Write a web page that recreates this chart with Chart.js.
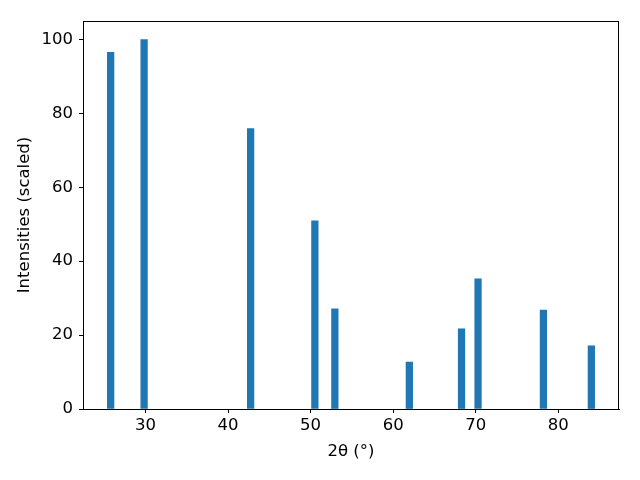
<!DOCTYPE html>
<html>
<head>
<meta charset="utf-8">
<script src="https://cdn.jsdelivr.net/npm/chart.js@4"></script>
<style>
  html, body { margin: 0; padding: 0; background: #fff; }
</style>
</head>
<body>
<canvas id="xrd" width="640" height="480"></canvas>
<script>
// peak positions (2theta, degrees) and scaled intensities
const peakPositions = [25.79, 29.84, 42.74, 50.52, 52.94, 61.96, 68.28, 70.28, 78.20, 84.00];
const peakIntensities = [96.5, 100, 75.9, 50.9, 27.1, 12.7, 21.7, 35.2, 26.8, 17.1];
const xTicks = [30, 40, 50, 60, 70, 80];
const yTicks = [0, 20, 40, 60, 80, 100];

const fontTick = { family: 'DejaVu Sans', size: 16.5 };

// matplotlib-like full box around the plot area
const frame = {
    id: 'frame',
    afterDraw(chart) {
        const { ctx, chartArea: a } = chart;
        ctx.save();
        ctx.strokeStyle = '#000';
        ctx.lineWidth = 1;
        ctx.strokeRect(Math.round(a.left) + 0.5, Math.round(a.top) + 0.5,
            Math.round(a.right - a.left) - 1, Math.round(a.bottom - a.top));
        ctx.restore();
    }
};

new Chart(document.getElementById('xrd'), {
    type: 'bar',
    data: {
        datasets: [{
            data: peakPositions.map((x, i) => ({ x: x, y: peakIntensities[i] })),
            backgroundColor: '#1f77b4',
            borderWidth: 0,
            barThickness: 6.6,
            grouped: false
        }]
    },
    options: {
        responsive: false,
        animation: false,
        layout: { padding: { top: 21, right: 21, left: 0, bottom: 0 } },
        plugins: { legend: { display: false }, tooltip: { enabled: false } },
        scales: {
            x: {
                type: 'linear',
                min: 22.44,
                max: 87.35,
                offset: false,
                afterFit: s => { s.height = 71; },
                afterBuildTicks: s => { s.ticks = xTicks.map(v => ({ value: v })); },
                grid: { drawOnChartArea: false, offset: false, tickLength: 4, color: '#000', tickWidth: 1 },
                border: { color: '#000' },
                ticks: { color: '#000', font: fontTick, padding: 3, maxRotation: 0, includeBounds: false },
                title: {
                    display: true, text: '2θ (°)', color: '#000', font: fontTick,
                    padding: { top: 0, bottom: 18 }
                }
            },
            y: {
                min: 0,
                max: 105,
                afterFit: s => { s.width = 83; },
                afterBuildTicks: s => { s.ticks = yTicks.map(v => ({ value: v })); },
                grid: { drawOnChartArea: false, tickLength: 4, color: '#000', tickWidth: 1 },
                border: { color: '#000' },
                ticks: { color: '#000', font: fontTick, padding: 6, includeBounds: false },
                title: {
                    display: true, text: 'Intensities (scaled)', color: '#000', font: fontTick,
                    padding: { top: 15, bottom: 0 }
                }
            }
        }
    },
    plugins: [frame]
});
</script>
</body>
</html>
